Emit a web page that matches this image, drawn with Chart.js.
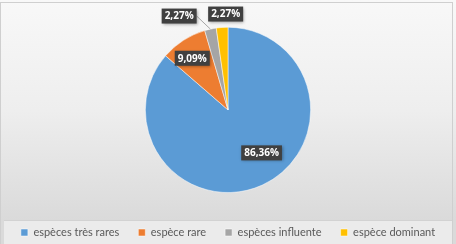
<!DOCTYPE html>
<html><head><meta charset="utf-8">
<style>html,body{margin:0;padding:0;background:#fff;overflow:hidden;}#wrap{width:456px;height:244px;}</style>
<script src="https://cdn.jsdelivr.net/npm/chart.js@4/dist/chart.umd.min.js"></script>
</head><body><div id="wrap"><canvas id="c" width="456" height="244"></canvas></div>
<script>
const categories = ['espèces très rares', 'espèce rare', 'espèces influente', 'espèce dominant'];
const values = [86.36, 9.09, 2.27, 2.27];
const valueLabels = ['86,36%', '9,09%', '2,27%', '2,27%'];
const colors = ['#5B9BD5', '#ED7D31', '#A5A5A5', '#FFC000'];

// label placement (polar: radius factor, angle in degrees on canvas), leader flag
const labelPlacement = [
  {r: 0.66, a: 52, leader: false},
  {r: 0.76, a: 235.3, leader: false},
  {r: 1.28, a: 242.5, leader: true},
  {r: 1.16, a: 268.6, leader: false}
];

const bgPlugin = {
  id: 'bg',
  beforeDraw(chart) {
    const {ctx, width, height} = chart;
    ctx.save();
    const g = ctx.createLinearGradient(0, 0, 0, 220);
    g.addColorStop(0, '#f8f8f8');
    g.addColorStop(0.5, '#eeeeee');
    g.addColorStop(1, '#dadada');
    ctx.fillStyle = g;
    ctx.fillRect(0, 0, width, height);
    ctx.fillStyle = '#ebebeb';
    ctx.fillRect(4, 220, width - 8, height - 220);
    ctx.strokeStyle = '#d2d2d2';
    ctx.lineWidth = 1;
    ctx.beginPath();
    ctx.moveTo(4, 220.5); ctx.lineTo(width - 4, 220.5);
    ctx.stroke();
    ctx.strokeStyle = '#cfcfcf';
    ctx.strokeRect(0.5, 2.5, width - 4, height);
    ctx.restore();
  }
};

const labelPlugin = {
  id: 'lbls',
  afterDatasetsDraw(chart) {
    const {ctx} = chart;
    const meta = chart.getDatasetMeta(0);
    ctx.save();
    ctx.font = 'bold 10px "Open Sans"';
    ctx.textAlign = 'center';
    ctx.textBaseline = 'middle';
    meta.data.forEach((arc, i) => {
      const p = labelPlacement[i];
      const R = arc.outerRadius;
      const ang = p.a * Math.PI / 180;
      const x = arc.x + Math.cos(ang) * R * p.r;
      const y = arc.y + Math.sin(ang) * R * p.r;
      const t = valueLabels[i];
      const w = ctx.measureText(t).width + 6;
      const h = 15;
      if (p.leader) {
        const mid = (arc.startAngle + arc.endAngle) / 2;
        const ex = arc.x + Math.cos(mid) * R;
        const ey = arc.y + Math.sin(mid) * R;
        ctx.strokeStyle = '#a6a6a6';
        ctx.lineWidth = 1;
        ctx.beginPath();
        ctx.moveTo(x + w / 2, y);
        ctx.lineTo(ex, ey);
        ctx.stroke();
      }
      ctx.shadowColor = 'rgba(0,0,0,0.35)';
      ctx.shadowBlur = 3;
      ctx.shadowOffsetX = 1;
      ctx.shadowOffsetY = 1;
      ctx.fillStyle = '#404040';
      ctx.fillRect(x - w / 2, y - h / 2, w, h);
      ctx.shadowColor = 'transparent';
      ctx.fillStyle = '#ffffff';
      ctx.fillText(t, x, y + 0.5);
    });
    ctx.restore();
  }
};

new Chart(document.getElementById('c'), {
  type: 'pie',
  data: {
    labels: categories,
    datasets: [{
      data: values,
      backgroundColor: colors,
      borderColor: '#ffffff',
      borderWidth: 0.5
    }]
  },
  options: {
    responsive: false,
    animation: false,
    layout: {padding: {top: 27, bottom: -4, left: 0, right: 0}},
    plugins: {
      tooltip: {enabled: false},
      legend: {
        position: 'bottom',
        title: {display: true, text: ' ', font: {size: 1}, padding: 7},
        labels: {
          boxWidth: 7,
          boxHeight: 7,
          padding: 19,
          color: '#595959',
          font: {family: 'Lato', size: 11}
        }
      }
    }
  },
  plugins: [bgPlugin, labelPlugin]
});
</script>
</body></html>
